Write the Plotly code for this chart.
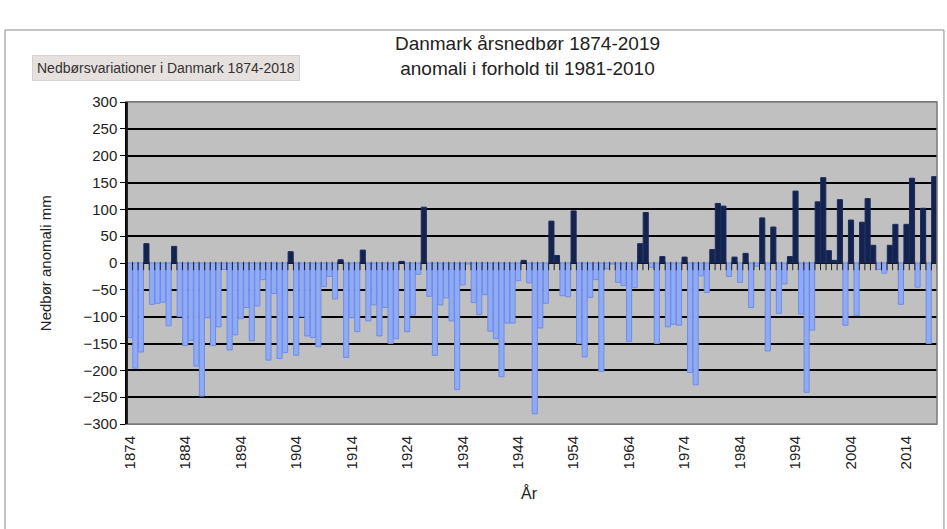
import plotly.graph_objects as go

years = list(range(1874, 2020))
anomaly_mm = [
    -139, -196, -166, 36, -77, -75, -73, -117, 31, -100,
    -154, -144, -192, -248, -102, -154, -119, -12, -162, -134,
    -104, -83, -145, -80, -31, -181, -57, -178, -167, 21,
    -172, -100, -136, -139, -156, -44, -25, -67, 6, -176,
    -102, -128, 24, -108, -78, -136, -83, -150, -141, 3,
    -128, -97, -21, 104, -62, -172, -78, -65, -108, -236,
    -41, -2, -74, -96, -59, -127, -141, -212, -112, -112,
    -33, 5, -37, -281, -121, -75, 78, 14, -61, -63,
    97, -150, -175, -64, -31, -202, -11, -2, -36, -42,
    -146, -46, 36, 94, -8, -150, 12, -119, -114, -116,
    11, -204, -227, -24, -55, 25, 111, 106, -25, 11,
    -36, 18, -83, -6, 84, -164, 67, -94, -39, 12,
    134, -95, -241, -125, 114, 159, 23, 5, 118, -116,
    80, -98, 76, 120, 33, -12, -19, 33, 72, -77,
    72, 158, -45, 102, -150, 161,
]
x_tick_years = list(range(1874, 2020, 10))
y_ticks = list(range(-300, 301, 50))

POS_FILL, POS_LINE = "#13234e", "#1b2b60"
NEG_FILL, NEG_LINE = "#91abf2", "#6d8cee"

fills = [POS_FILL if v >= 0 else NEG_FILL for v in anomaly_mm]
lines = [POS_LINE if v >= 0 else NEG_LINE for v in anomaly_mm]

W, H = 947, 529
ML, MR, MT, MB = 127, 10, 102, 105
plot_h_px = H - MT - MB
mm_per_px = 600 / plot_h_px
tick_half_mm = 3 * mm_per_px  # category tick marks hang below the zero line

fig = go.Figure()
fig.add_trace(go.Bar(
    x=years, y=anomaly_mm,
    marker=dict(color=fills, line=dict(color=lines, width=1)),
    hoverinfo="x+y", showlegend=False,
))
fig.add_trace(go.Scatter(
    x=[y - 0.5 for y in years] + [years[-1] + 0.5],
    y=[-tick_half_mm] * (len(years) + 1),
    mode="markers",
    marker=dict(symbol="line-ns", size=6, line=dict(color="#222", width=1)),
    hoverinfo="skip", showlegend=False,
))

FONT = "Liberation Sans, Arial, sans-serif"

fig.update_layout(
    width=W, height=H,
    margin=dict(l=ML, r=MR, t=MT, b=MB),
    paper_bgcolor="white",
    plot_bgcolor="#c0c0c0",
    bargap=0.08,
    font=dict(family=FONT, color="#222"),
    title=dict(
        text="Danmark årsnedbør 1874-2019<br>anomali i forhold til 1981-2010",
        x=0.557, xanchor="center", y=0.905, yanchor="middle",
        font=dict(size=19, color="#222", family=FONT),
    ),
    xaxis=dict(
        range=[1873.5, 2019.5],
        tickmode="array", tickvals=x_tick_years,
        ticktext=[str(v) for v in x_tick_years],
        tickangle=-90, tickfont=dict(size=15, color="#222"),
        ticks="", showgrid=False, zeroline=False,
        showline=True, linecolor="#7a7a7a", linewidth=1, mirror=True,
        ticklabelstandoff=5,
    ),
    yaxis=dict(
        range=[-300, 300],
        tickmode="array", tickvals=y_ticks,
        tickfont=dict(size=15, color="#222"),
        ticks="outside", ticklen=5, tickcolor="#000", tickwidth=1,
        showgrid=True, gridcolor="#000", gridwidth=2,
        zeroline=True, zerolinecolor="#000", zerolinewidth=1,
        showline=True, linecolor="#000", linewidth=1.5,
    ),
    shapes=[
        dict(type="rect", xref="paper", yref="paper", x0=-0.1506, x1=1.0086,
             y0=-0.4, y1=1.2236, line=dict(color="#8a8a8a", width=1),
             fillcolor="rgba(0,0,0,0)", layer="below"),
        dict(type="rect", xref="paper", yref="paper", x0=0, x1=1, y0=0, y1=1,
             line=dict(color="#7a7a7a", width=1.5), fillcolor="rgba(0,0,0,0)",
             layer="above"),
        dict(type="line", xref="paper", yref="paper", x0=0, x1=0, y0=0, y1=1,
             line=dict(color="#000", width=1.5), layer="above"),
    ],
    annotations=[
        dict(text="Nedbør anomali mm", xref="paper", yref="paper",
             x=-0.101, y=0.5, xanchor="center", yanchor="middle",
             textangle=-90, showarrow=False,
             font=dict(size=15, color="#222")),
        dict(text="År", xref="paper", yref="paper", x=0.497, y=-0.214,
             xanchor="center", yanchor="middle",
             showarrow=False, font=dict(size=16, color="#222")),
        dict(text="Nedbørsvariationer i Danmark 1874-2018", xref="paper",
             yref="paper", x=0.048, y=1.1056, xanchor="center", yanchor="middle",
             showarrow=False,
             font=dict(size=14, color="#333"), bgcolor="#e6e0df",
             bordercolor="#d6d0cf", borderwidth=1, borderpad=4),
    ],
)

fig.write_html("out.html", config={"displayModeBar": False},
               post_script="document.body.style.margin='0';")
